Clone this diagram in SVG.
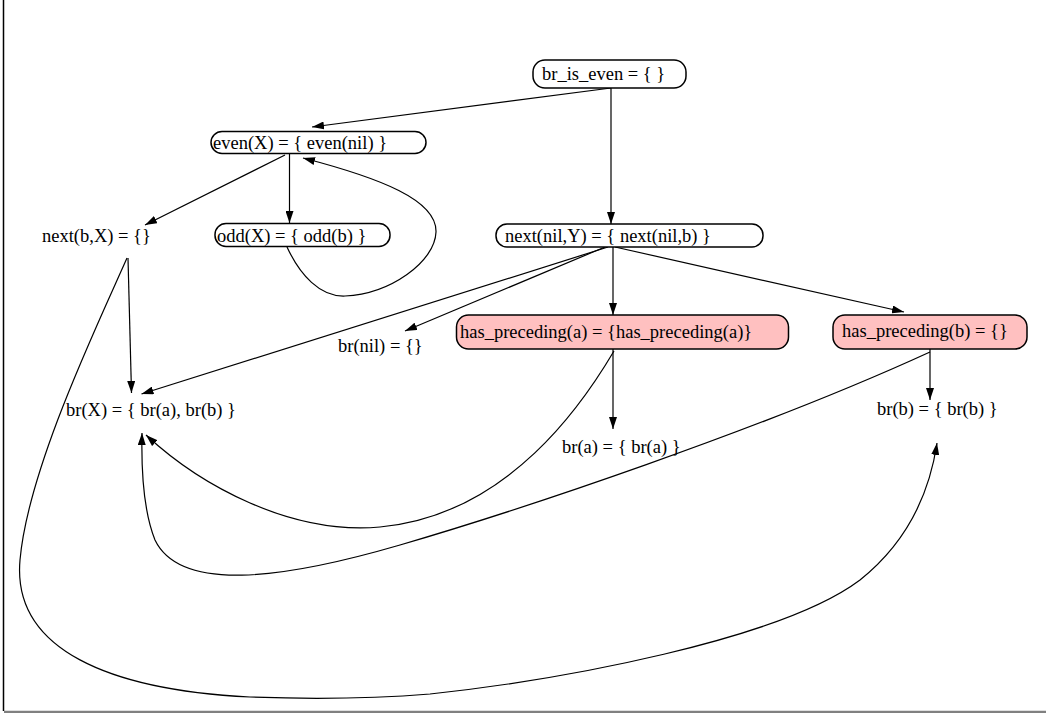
<svg xmlns="http://www.w3.org/2000/svg" width="1046" height="716" viewBox="0 0 1046 716">
<style>
.n{fill:#ffffff;stroke:#000;stroke-width:1.5}
.p{fill:#ffc0c0;stroke:#000;stroke-width:1.5}
.t{font-family:"Liberation Serif","Times New Roman",serif;font-size:18.5px;fill:#000}
.e{fill:none;stroke:#000;stroke-width:1.2;marker-end:url(#ah)}
</style>
<defs>
<marker id="ah" viewBox="0 0 12 8" refX="12" refY="4" markerWidth="12" markerHeight="8" markerUnits="userSpaceOnUse" orient="auto">
<path d="M0,0 L12,4 L0,8 z" fill="#000"/>
</marker>
</defs>
<rect x="0" y="0" width="1046" height="716" fill="#fff"/>
<line x1="3.5" y1="0" x2="3.5" y2="711" stroke="#000" stroke-width="1.5"/>
<line x1="4" y1="711.8" x2="1046" y2="711.8" stroke="#808080" stroke-width="2.2"/>
<g id="connectors">
<path class="e" d="M611,88 L312,127"/>
<path class="e" d="M611,88 L611,224"/>
<path class="e" d="M289.5,154 L289.5,223"/>
<path class="e" d="M285,155 L145,225"/>
<path class="e" d="M287,247 C300,275 320,297 345,296 C390,294 435,262 436,232 C437,200 380,178 303,158"/>
<path class="e" d="M128,258 L131.5,393"/>
<path class="e" d="M127,258 C95,330 28,470 20,560 C12,650 110,690 250,697 C330,700 380,698 430,694 C560,680 780,640 860,580 C910,540 930,490 937,443"/>
<path class="e" d="M608,247 L141.5,394"/>
<path class="e" d="M605,247 L405,331"/>
<path class="e" d="M613,247 L613,315"/>
<path class="e" d="M615,247 L904,312"/>
<path class="e" d="M613,349 L613,429"/>
<path class="e" d="M614,351 C585,400 510,515 380,527 C290,535 200,485 146,435"/>
<path class="e" d="M930,352 C760,430 520,510 400,545 C280,580 180,592 155,540 C145,515 141,480 142,433"/>
<path class="e" d="M930,349 L930,400"/>
</g>
<g id="br_is_even">
<rect class="n" x="533" y="60" width="153" height="28" rx="12"/>
<text class="t" x="542" y="80">br_is_even = {  }</text>
</g>
<g id="even_X">
<rect class="n" x="211" y="131.5" width="215" height="22" rx="11"/>
<text class="t" x="213" y="149">even(X) = { even(nil) }</text>
</g>
<g id="odd_X">
<rect class="n" x="215" y="223.5" width="175" height="23" rx="11"/>
<text class="t" x="217" y="241.5">odd(X) = { odd(b) }</text>
</g>
<g id="next_bX">
<text class="t" x="42" y="242">next(b,X) = {}</text>
</g>
<g id="next_nilY">
<rect class="n" x="496" y="224" width="267" height="23" rx="11"/>
<text class="t" x="505" y="241.7">next(nil,Y) = { next(nil,b) }</text>
</g>
<g id="has_preceding_a">
<rect class="p" x="456.5" y="315" width="332" height="34" rx="12"/>
<text class="t" x="460" y="338">has_preceding(a) = {has_preceding(a)}</text>
</g>
<g id="has_preceding_b">
<rect class="p" x="833" y="315" width="194" height="34" rx="12"/>
<text class="t" x="842" y="337">has_preceding(b) = {}</text>
</g>
<g id="br_nil">
<text class="t" x="338" y="352">br(nil) = {}</text>
</g>
<g id="br_X">
<text class="t" x="66" y="416">br(X) = { br(a), br(b) }</text>
</g>
<g id="br_a">
<text class="t" x="562" y="453">br(a) = { br(a) }</text>
</g>
<g id="br_b">
<text class="t" x="877" y="415">br(b) = { br(b) }</text>
</g>
</svg>
